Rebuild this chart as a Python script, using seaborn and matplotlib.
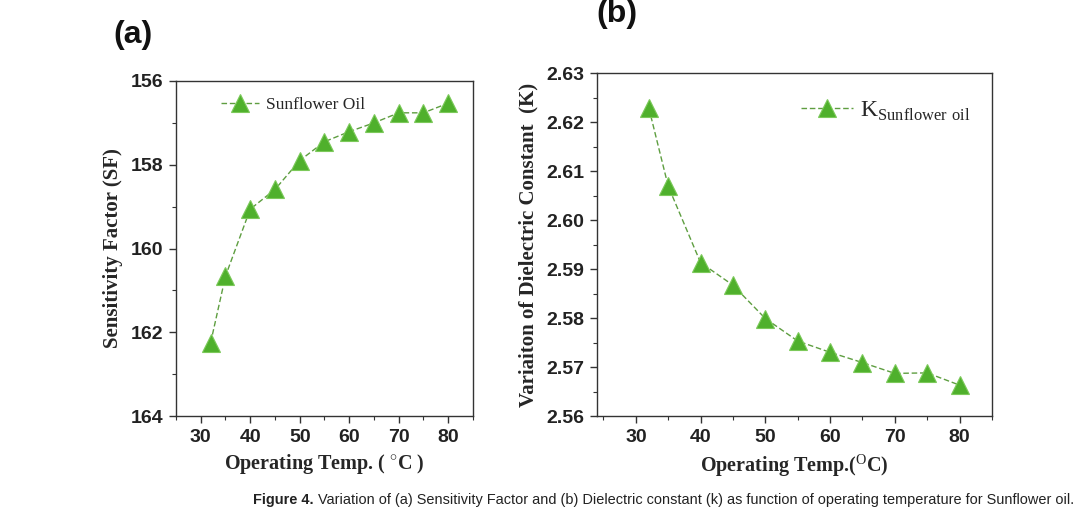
import pandas as pd
import matplotlib
matplotlib.use('Agg')
import matplotlib.pyplot as plt
from matplotlib.ticker import MultipleLocator, FormatStrFormatter
import seaborn as sns

# Data
temp = [32, 35, 40, 45, 50, 55, 60, 65, 70, 75, 80]
sensitivity = [162.25, 160.66, 159.06, 158.59, 157.90, 157.45, 157.21, 157.0, 156.76, 156.76, 156.53]
dielectric = [2.6229, 2.6069, 2.5913, 2.5867, 2.5799, 2.5753, 2.5730, 2.5709, 2.5687, 2.5688, 2.5663]

df = pd.DataFrame({'temp': temp, 'sf': sensitivity, 'k': dielectric})

sns.set_theme(style="ticks")
plt.rcParams['font.family'] = ['Liberation Serif', 'DejaVu Serif']
plt.rcParams['mathtext.fontset'] = 'custom'
plt.rcParams['mathtext.rm'] = 'Liberation Serif'

green = '#4fb02c'
line_green = '#5e9e40'

fig = plt.figure(figsize=(10.89, 5.28), dpi=100)
ax1 = fig.add_axes([0.1616, 0.2121, 0.2727, 0.6345])
ax2 = fig.add_axes([0.5482, 0.2121, 0.3627, 0.6496])


def style_axes(ax):
    for s in ax.spines.values():
        s.set_color('#333333')
        s.set_linewidth(1.0)
    ax.tick_params(which='both', direction='out', color='#333333', top=False, right=False)
    ax.tick_params(which='major', length=5, width=1.0, labelsize=14, pad=4)
    ax.tick_params(which='minor', length=3, width=0.8)
    for lab in ax.get_xticklabels() + ax.get_yticklabels():
        lab.set_fontfamily('Liberation Sans')
        lab.set_fontweight('bold')
        lab.set_color('#222222')


# (a) Sensitivity factor
sns.lineplot(data=df, x='temp', y='sf', ax=ax1, color=line_green, linestyle=(0, (4, 2)), lw=1.0,
             marker='^', markersize=13, markerfacecolor=green, markeredgecolor='#7cc95a',
             markeredgewidth=0.8, label='Sunflower Oil')
ax1.set_xlim(25, 85)
ax1.set_ylim(164, 156)
ax1.xaxis.set_major_locator(MultipleLocator(10))
ax1.xaxis.set_minor_locator(MultipleLocator(5))
ax1.yaxis.set_major_locator(MultipleLocator(2))
ax1.yaxis.set_minor_locator(MultipleLocator(1))
ax1.set_xlabel(r'Operating Temp. ( $^{\circ}$C )', fontsize=14.5, fontweight='bold', labelpad=5)
ax1.set_ylabel('Sensitivity Factor (SF)', fontsize=15, fontweight='bold', labelpad=6)
style_axes(ax1)
ax1.legend(loc='upper left', bbox_to_anchor=(0.1, 1.0), frameon=False, fontsize=12.5,
           handlelength=2.2, handletextpad=0.4)

# (b) Dielectric constant
sns.lineplot(data=df, x='temp', y='k', ax=ax2, color=line_green, linestyle=(0, (4, 2)), lw=1.0,
             marker='^', markersize=13, markerfacecolor=green, markeredgecolor='#7cc95a',
             markeredgewidth=0.8, label=r'K$_{\mathrm{Sunflower\ oil}}$')
ax2.set_xlim(24, 85)
ax2.set_ylim(2.56, 2.63)
ax2.xaxis.set_major_locator(MultipleLocator(10))
ax2.xaxis.set_minor_locator(MultipleLocator(5))
ax2.yaxis.set_major_locator(MultipleLocator(0.01))
ax2.yaxis.set_minor_locator(MultipleLocator(0.005))
ax2.yaxis.set_major_formatter(FormatStrFormatter('%.2f'))
ax2.set_xlabel(r'Operating Temp.($^{\mathrm{O}}$C)', fontsize=14.5, fontweight='bold', labelpad=5)
ax2.set_ylabel('Variaiton of Dielectric Constant  (K)', fontsize=15, fontweight='bold', labelpad=6)
style_axes(ax2)
ax2.legend(loc='upper right', bbox_to_anchor=(1.0, 0.985), frameon=False, fontsize=17,
           handlelength=2.2, handletextpad=0.3)

# Panel labels
fig.text(133 / 1089, 1 - 35 / 528, '(a)', fontsize=23, fontfamily='Liberation Sans',
         fontweight='bold', ha='center', va='center', color='#111111')
fig.text(617 / 1089, 1 - 14 / 528, '(b)', fontsize=23, fontfamily='Liberation Sans',
         fontweight='bold', ha='center', va='center', color='#111111')

# Caption, shrunk so that it spans the same width as in the reference
cap_size = 11.5
cap = fig.text(253 / 1089, 1 - 500 / 528, 'Figure 4.', fontsize=cap_size, fontweight='bold',
               fontfamily='Liberation Sans', va='center', color='#222222')
rest = fig.text(0, 1 - 500 / 528,
                ' Variation of (a) Sensitivity Factor and (b) Dielectric constant (k) as function of '
                'operating temperature for Sunflower oil.',
                fontsize=cap_size, fontfamily='Liberation Sans', va='center', color='#222222')
renderer = fig.canvas.get_renderer()
w = cap.get_window_extent(renderer).width + rest.get_window_extent(renderer).width
cap_size = cap_size * 822 / w
cap.set_fontsize(cap_size)
rest.set_fontsize(cap_size)
x_end = cap.get_window_extent(renderer).x1
rest.set_x(x_end / fig.bbox.width)

plt.savefig('out.png', dpi=100)
plt.close()
